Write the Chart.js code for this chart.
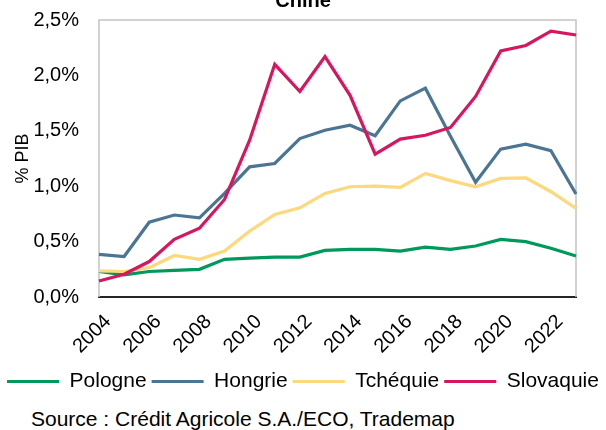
<!DOCTYPE html>
<html lang="fr">
<head>
<meta charset="utf-8">
<title>Chine</title>
<script src="https://cdn.jsdelivr.net/npm/chart.js@4.4.1/dist/chart.umd.min.js"></script>
<style>
    html, body { margin: 0; padding: 0; background: #fff; }
    #page { position: relative; width: 606px; height: 430px; overflow: hidden; }
    #chartBox { position: absolute; left: 0; top: -16px; }
    #source {
        position: absolute; left: 31px; top: 407px;
        font: 21px 'Liberation Sans', Arial, sans-serif; line-height: 24px; color: #000;
        white-space: nowrap;
    }
</style>
</head>
<body>
<div id="page">
    <div id="chartBox"><canvas id="chineChart" width="606" height="418"></canvas></div>
    <div id="source">Source : Crédit Agricole S.A./ECO, Trademap</div>
</div>
<script>
const years = ['2004', '2005', '2006', '2007', '2008', '2009', '2010', '2011', '2012', '2013',
               '2014', '2015', '2016', '2017', '2018', '2019', '2020', '2021', '2022', '2023'];

// % du PIB
const pologne   = [0.23, 0.20, 0.23, 0.24, 0.25, 0.34, 0.35, 0.36, 0.36, 0.42,
                   0.43, 0.43, 0.415, 0.45, 0.43, 0.46, 0.52, 0.50, 0.44, 0.37];
const hongrie   = [0.385, 0.365, 0.675, 0.74, 0.715, 0.935, 1.175, 1.205, 1.43, 1.505,
                   1.55, 1.455, 1.77, 1.885, 1.45, 1.035, 1.335, 1.38, 1.32, 0.93];
const tchequie  = [0.235, 0.23, 0.265, 0.375, 0.34, 0.415, 0.595, 0.745, 0.805, 0.935,
                   0.995, 1.0, 0.99, 1.115, 1.05, 0.995, 1.07, 1.075, 0.95, 0.80];
const slovaquie = [0.145, 0.205, 0.32, 0.52, 0.62, 0.88, 1.415, 2.10, 1.855, 2.17,
                   1.82, 1.29, 1.425, 1.46, 1.53, 1.81, 2.22, 2.27, 2.40, 2.365];

const yTicks = [0, 0.5, 1.0, 1.5, 2.0, 2.5];

const FONT = "'Liberation Sans', Arial, sans-serif";

// light grey frame on left, top and right of the plot
const plotFrame = {
    id: 'plotFrame',
    beforeDatasetsDraw(chart) {
        const { ctx, chartArea: a } = chart;
        ctx.save();
        ctx.strokeStyle = '#c4c4c4';
        ctx.lineWidth = 1.5;
        ctx.beginPath();
        ctx.moveTo(a.left, a.bottom);
        ctx.lineTo(a.left, a.top);
        ctx.lineTo(a.right, a.top);
        ctx.lineTo(a.right, a.bottom);
        ctx.stroke();
        ctx.restore();
    }
};

function series(label, data, color, order) {
    return {
        label,
        data,
        borderColor: color,
        backgroundColor: color,
        borderWidth: 3.2,
        pointRadius: 0,
        tension: 0,
        order
    };
}

new Chart(document.getElementById('chineChart'), {
    type: 'line',
    data: {
        labels: years,
        datasets: [
            series('Pologne', pologne, '#00995c', 3),
            series('Hongrie', hongrie, '#4b7594', 2),
            series('Tchéquie', tchequie, '#fed87c', 1),
            series('Slovaquie', slovaquie, '#d8155f', 0)
        ]
    },
    options: {
        responsive: false,
        animation: false,
        layout: { padding: 0 },
        plugins: {
            title: {
                display: true,
                text: 'Chine',
                color: '#000',
                font: { family: FONT, size: 20, weight: 'bold' },
                padding: { top: 5, bottom: 7 }
            },
            legend: {
                position: 'bottom',
                labels: {
                    usePointStyle: true,
                    pointStyle: 'line',
                    pointStyleWidth: 52,
                    boxHeight: 3,
                    padding: 5,
                    color: '#000',
                    font: { family: FONT, size: 21 },
                    sort: (a, b) => a.datasetIndex - b.datasetIndex
                }
            },
            tooltip: { enabled: false }
        },
        scales: {
            x: {
                grid: { display: false, drawTicks: false },
                border: { display: true, color: '#262626', width: 2 },
                ticks: {
                    autoSkip: false,
                    maxRotation: 45,
                    minRotation: 45,
                    padding: 13,
                    labelOffset: 9,
                    color: '#000',
                    font: { family: FONT, size: 20 },
                    callback(value, index) {
                        return index % 2 === 0 ? this.getLabelForValue(value) : '';
                    }
                },
                afterFit(scale) { scale.height = 69; }
            },
            y: {
                min: 0,
                max: 2.5,
                afterBuildTicks(scale) {
                    scale.ticks = yTicks.map(v => ({ value: v }));
                },
                grid: { display: false, drawTicks: false },
                border: { display: false },
                ticks: {
                    padding: 20,
                    color: '#000',
                    font: { family: FONT, size: 20 },
                    callback: v => v.toFixed(1).replace('.', ',') + '%'
                },
                title: {
                    display: true,
                    text: '% PIB',
                    color: '#000',
                    font: { family: FONT, size: 18 },
                    padding: { top: 12, bottom: 0 }
                },
                afterFit(scale) { scale.width = 99; }
            },
            // empty axis that keeps room on the right of the plot
            yRight: {
                position: 'right',
                display: true,
                grid: { display: false, drawTicks: false },
                border: { display: false },
                ticks: { display: false },
                afterFit(scale) { scale.width = 30; }
            }
        }
    },
    plugins: [plotFrame]
});
</script>
</body>
</html>
